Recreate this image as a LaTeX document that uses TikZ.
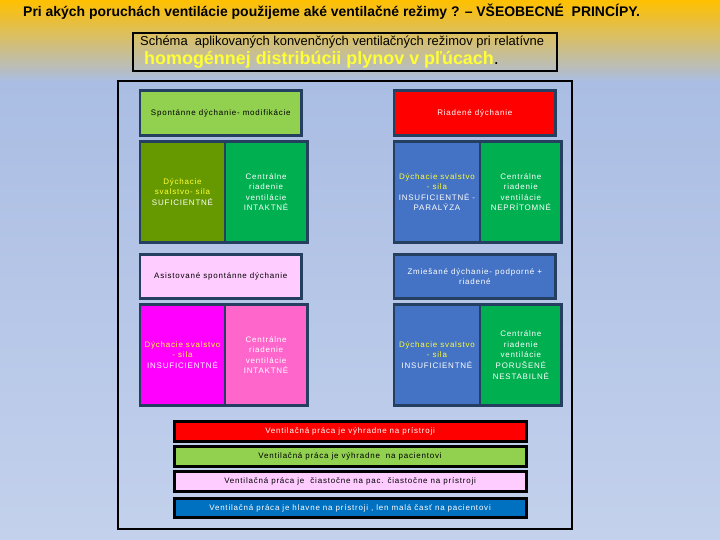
\documentclass[tikz,border=0pt]{standalone}
\usepackage{fontspec}
\setmainfont{Liberation Sans}
\newfontfamily\cellfont{Liberation Sans}[LetterSpace=10]
\usepackage{tikz}
\usetikzlibrary{positioning}
\definecolor{mygold}{HTML}{FFC000}
\definecolor{mybg}{HTML}{AABDE3}
\definecolor{mybglight}{HTML}{C3D1EC}
\definecolor{mynavy}{HTML}{243F60}
\definecolor{mylime}{HTML}{92D050}
\definecolor{myolive}{HTML}{669900}
\definecolor{mygreen}{HTML}{00B050}
\definecolor{myred}{HTML}{FF0000}
\definecolor{myblue}{HTML}{4472C4}
\definecolor{mypale}{HTML}{FFCCFF}
\definecolor{mymagenta}{HTML}{FF00FF}
\definecolor{mypink}{HTML}{FF66CC}
\definecolor{mybarblue}{HTML}{0070C0}
\definecolor{myyellow}{HTML}{FFFF33}
\newcommand{\yel}[1]{\textcolor{myyellow}{#1}}
\tikzset{
	modebox/.style={
			shape=rectangle,
			draw=mynavy,
			line width=2.6pt,
			minimum width=161.7bp,
			minimum height=44.9bp,
			inner sep=0pt
		},
	cellbox/.style={
			modebox,
			minimum height=101.4bp
		},
	barbox/.style={
			shape=rectangle,
			draw=black,
			line width=3pt,
			minimum width=351.8bp,
			minimum height=19.6bp,
			inner sep=0pt
		}
}
\tikzset{
	celltext/.style={font=\cellfont\fontsize{8}{10.6}\selectfont, align=center, text=white},
	bartext/.style={font=\cellfont\fontsize{8}{9}\selectfont, text=white}
}

\begin{document}
\begin{tikzpicture}[x=1bp, y=-1bp]

  \useasboundingbox (0,0) rectangle (720,540);
  \shade[top color=mygold, bottom color=mybg] (0,0) rectangle (720,82);
  \shade[top color=mybg, bottom color=mybglight] (0,82) rectangle (720,540);

  % nadpis
  \node[anchor=base west, inner sep=0pt, font=\bfseries\fontsize{14}{16}\selectfont] (title) at (23,16.7)
    {Pri akých poruchách ventilácie použijeme aké ventilačné režimy ? – VŠEOBECNÉ\ \ PRINCÍPY.};

  \draw[line width=1.1pt] (133,33) rectangle (557,71);
  \node[anchor=base west, inner sep=0pt, font=\fontsize{13}{15}\selectfont] (sub1) at (140,45.5)
    {Schéma\ \ aplikovaných konvenčných ventilačných režimov pri relatívne};
  \node[anchor=base west, inner sep=0pt, font=\bfseries\fontsize{18}{20}\selectfont] (sub2) at (144,65)
    {\textcolor{myyellow}{homogénnej distribúcii plynov v pľúcach}\textmd{.}};

  \draw[line width=2pt] (118,81) rectangle (572,529);

  \node[modebox, fill=mylime] (m1) at (220.8,113.2) {};
  \node[modebox, fill=myred] (m2) at (474.8,113.2) {};

  \node[cellbox, fill=myolive, minimum width=85bp] (c1) at (182.5,192) {};
  \node[cellbox, fill=mygreen, minimum width=82.2bp] (c2) at (266.1,192) {};
  \node[cellbox, fill=myblue, minimum width=86.1bp] (c3) at (436.95,192) {};
  \node[cellbox, fill=mygreen, minimum width=81.7bp] (c4) at (520.85,192) {};

  \node[modebox, fill=mypale, minimum height=44.4bp] (m3) at (220.8,276.5) {};
  \node[modebox, fill=myblue, minimum height=44.4bp] (m4) at (474.8,276.5) {};

  \node[cellbox, fill=mymagenta, minimum width=85bp] (c5) at (182.5,355) {};
  \node[cellbox, fill=mypink, minimum width=82.2bp] (c6) at (266.1,355) {};
  \node[cellbox, fill=myblue, minimum width=86.1bp] (c7) at (436.95,355) {};
  \node[cellbox, fill=mygreen, minimum width=81.7bp] (c8) at (520.85,355) {};

  \node[celltext, text=black] (t1) at (m1) {Spontánne dýchanie- modifikácie};
  \node[celltext] (t2) at (m2) {Riadené dýchanie};
  \node[celltext] (t3) at (c1) {\yel{Dýchacie}\\\yel{svalstvo- sila}\\SUFICIENTNÉ};
  \node[celltext] (t4) at (c2) {Centrálne\\riadenie\\ventilácie\\INTAKTNÉ};
  \node[celltext] (t5) at (c3) {\yel{Dýchacie svalstvo}\\\yel{- sila}\\INSUFICIENTNÉ -\\PARALÝZA};
  \node[celltext] (t6) at (c4) {Centrálne\\riadenie\\ventilácie\\NEPRÍTOMNÉ};
  \node[celltext, text=black] (t7) at (m3) {Asistované spontánne dýchanie};
  \node[celltext] (t8) at (m4) {Zmiešané dýchanie- podporné +\\riadené};
  \node[celltext] (t9) at (c5) {\yel{Dýchacie svalstvo}\\\yel{- sila}\\INSUFICIENTNÉ};
  \node[celltext] (t10) at (c6) {Centrálne\\riadenie\\ventilácie\\INTAKTNÉ};
  \node[celltext] (t11) at (c7) {\yel{Dýchacie svalstvo}\\\yel{- sila}\\INSUFICIENTNÉ};
  \node[celltext] (t12) at (c8) {Centrálne\\riadenie\\ventilácie\\PORUŠENÉ\\NESTABILNÉ};

  \node[barbox, fill=myred] (b1) at (350.1,431.5) {};
  \node[barbox, fill=mylime] (b2) at (350.1,456.6) {};
  \node[barbox, fill=mypale] (b3) at (350.1,481.5) {};
  \node[barbox, fill=mybarblue] (b4) at (350.1,508) {};

  \node[bartext] (l1) at (b1) {Ventilačná práca je výhradne na prístroji};
  \node[bartext, text=black] (l2) at (b2) {Ventilačná práca je výhradne\ \ na pacientovi};
  \node[bartext, text=black] (l3) at (b3) {Ventilačná práca je\ \ čiastočne na pac. čiastočne na prístroji};
  \node[bartext] (l4) at (b4) {Ventilačná práca je hlavne na prístroji , len malá časť na pacientovi};

\end{tikzpicture}
\end{document}
